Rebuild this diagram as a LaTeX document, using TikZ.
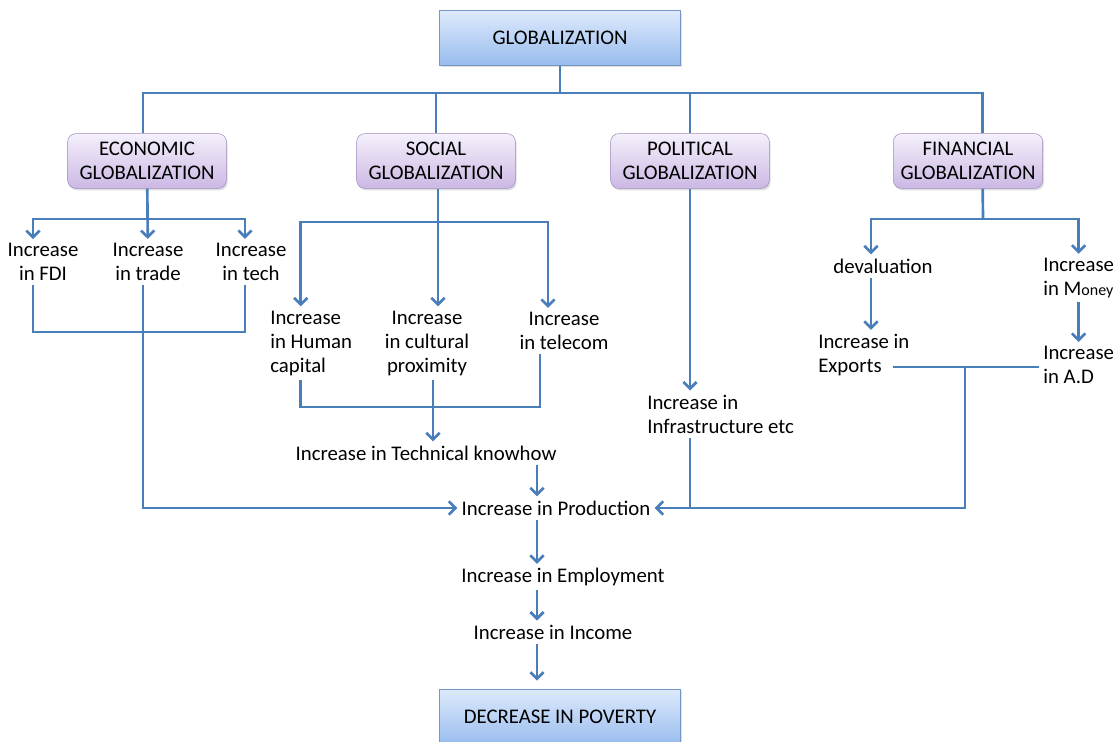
\documentclass[tikz,border=0pt]{standalone}
\usepackage{fontspec}
\setmainfont{Carlito}
\usetikzlibrary{arrows.meta,shadows}

\definecolor{linkblue}{RGB}{74,126,187}
\definecolor{maintop}{RGB}{222,234,252}
\definecolor{mainbot}{RGB}{152,188,238}
\definecolor{mainedge}{RGB}{118,150,200}
\definecolor{kindtop}{RGB}{245,240,251}
\definecolor{kindbot}{RGB}{203,184,228}
\definecolor{kindedge}{RGB}{160,140,190}

\begin{document}
\begin{tikzpicture}[x=0.75pt,y=-0.75pt,
    font=\fontsize{15.6}{18}\selectfont,
    line/.style={draw=linkblue,line width=2pt},
    arr/.style={line,-{Straight Barb[length=5pt,width=10pt]}},
    txt/.style={inner sep=3pt,align=center},
    mainbox/.style={draw=mainedge,top color=maintop,bottom color=mainbot,minimum width=181pt,minimum height=41pt,
        drop shadow={opacity=0.25,shadow xshift=1pt,shadow yshift=-1.5pt}},
    kindbox/.style={draw=kindedge,rounded corners=6pt,top color=kindtop,bottom color=kindbot,align=center,
        minimum width=119pt,minimum height=41pt,inner sep=2pt,
        drop shadow={opacity=0.25,shadow xshift=1pt,shadow yshift=-1.5pt}}]
\path[use as bounding box,fill=white] (0,0) rectangle (1113,742);

\node[mainbox] (glob) at (560,38) {GLOBALIZATION};
\node[kindbox] (eco) at (147,161) {ECONOMIC\\GLOBALIZATION};
\node[kindbox] (soc) at (436,161) {SOCIAL\\GLOBALIZATION};
\node[kindbox] (pol) at (690,161) {POLITICAL\\GLOBALIZATION};
\node[kindbox,minimum width=112pt] (fin) at (968,161) {FINANCIAL\\GLOBALIZATION};

\node[txt] (fdi) at (43,262) {Increase\\in FDI};
\node[txt] (trade) at (148,262) {Increase\\in trade};
\node[txt] (tech) at (251,262) {Increase\\in tech};
\node[txt,align=left,anchor=west] (human) at (266,343) {Increase\\in Human\\capital};
\node[txt] (cult) at (427,343) {Increase\\in cultural\\proximity};
\node[txt] (tele) at (564,331) {Increase\\in telecom};
\node[txt] (know) at (426,453) {Increase in Technical knowhow};
\node[txt,align=left,anchor=west] (infra) at (643,414) {Increase in\\Infrastructure etc};
\node[txt] (deval) at (883,266) {devaluation};
\node[txt,align=left,anchor=west] (money) at (1039,278) {Increase\\in M{\fontsize{12}{14}\selectfont oney}};
\node[txt,align=left,anchor=west] (exp) at (814,355) {Increase in\\Exports};
\node[txt,align=left,anchor=west] (ad) at (1039,365) {Increase\\in A.D};
\node[txt] (prod) at (556,508) {Increase in Production};
\node[txt] (emp) at (563,577) {Increase in Employment};
\node[txt] (inc) at (553,632) {Increase in Income};
\node[mainbox,minimum height=42pt] (pov) at (560,717) {DECREASE IN POVERTY};

\coordinate (gj) at (560,93);
\draw[line] (glob) -- (gj);
\draw[line] ([xshift=-3pt]eco.north) |- (gj) -| ([xshift=11pt]fin.north);
\draw[line] (soc.north) -- (soc.north |- gj);
\draw[line] (pol.north) -- (pol.north |- gj);

\coordinate (ej) at (147,219);
\coordinate (eb) at (147,332);
\draw[arr] (eco) -- (trade);
\draw[arr] (ej) -| ([xshift=-7.5pt]fdi.north);
\draw[arr] (ej) -| ([xshift=-4.5pt]tech.north);
\draw[line] ([xshift=-7.5pt]fdi.south) |- (eb) -| ([xshift=-4.5pt]tech.south);
\draw[arr] ([xshift=-3.75pt]trade.south) |- (prod.west);

\coordinate (sj) at (438,222);
\coordinate (sb) at (433,407);
\draw[arr] (soc.south -| sj) -- (sj |- cult.north);
\draw[arr] (sj) -| ([xshift=26pt]human.north west);
\draw[arr] (sj) -| ([xshift=-12pt]tele.north);
\draw[line] ([xshift=26pt]human.south west) |- (sb) -| ([xshift=-18pt]tele.south);
\draw[arr] (cult.south -| sb) -- (know.north -| sb);

\coordinate (sp) at (537,0);
\draw[arr] (know.south -| sp) -- (prod.north -| sp);
\draw[arr] (prod.south -| sp) -- (emp.north -| sp);
\draw[arr] (emp.south -| sp) -- (inc.north -| sp);
\draw[arr,shorten >=6pt] (inc.south -| sp) -- (pov.north -| sp);

\draw[arr] (pol) -- (pol |- infra.north);
\draw[line] (infra.south -| pol) -- (prod.east -| pol);

\coordinate (fj) at (983,219);
\coordinate (xl) at (893,367);
\coordinate (xj) at (965,367);
\draw[line] ([xshift=11pt]fin.south) -- (fj);
\draw[arr] (fj) -| ([xshift=-9pt]deval.north);
\draw[arr] (fj) -| (money.north);
\draw[arr] ([xshift=-9pt]deval.south) -- ([xshift=-9pt]deval.south |- exp.north);
\draw[arr] (money.south) -- (money.south |- ad.north);
\draw[line] (xl) -- (xl -| ad.west);
\draw[arr] (xj) |- (prod.east);
\end{tikzpicture}
\end{document}
